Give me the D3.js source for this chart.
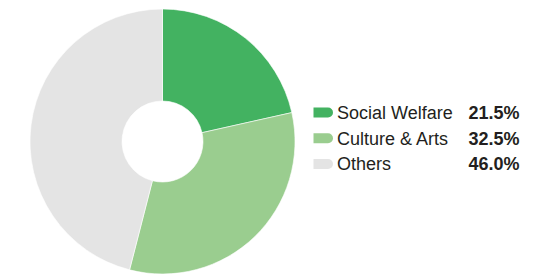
<!DOCTYPE html>
<html lang="en">
  <head>
      <meta charset="utf-8">
      <title>Donut</title>
      <script type="text/javascript" src="https://cdn.jsdelivr.net/npm/d3@7"></script>
      <style>
        body { margin: 0; background: #fff; }
        text { font-family: "Liberation Sans", Arial, sans-serif; fill: #231f20; }
      </style>
  </head>
  <body>
      <script type="text/javascript">

      var categories = ["Social Welfare", "Culture & Arts", "Others"];
      var values = [21.5, 32.5, 46.0];
      var labels = ["21.5%", "32.5%", "46.0%"];
      var colors = ["#43b261", "#9acd8f", "#e4e4e4"];

      var w = 560;
      var h = 277;
      var cx = 162.5, cy = 141.5;
      var outerR = 132.5, innerR = 40.5;

      var svg = d3.select("body").append("svg").attr("width", w).attr("height", h);

      var pie = d3.pie().sort(null).value(function(d){ return d; });
      var arc = d3.arc().innerRadius(innerR).outerRadius(outerR);
      var color = d3.scaleOrdinal().domain(categories).range(colors);

      // Donut slices
      svg.append("g").attr("transform", "translate(" + cx + "," + cy + ")")
        .selectAll("path").data(pie(values)).enter().append("path")
        .attr("d", arc)
        .attr("fill", function(d, i){ return color(categories[i]); })
        .attr("stroke", "#fff").attr("stroke-width", 0.6);

      // Legend
      var rowY = d3.scalePoint().domain(categories).range([112.5, 164]);
      var legend = svg.append("g").selectAll("g").data(categories).enter().append("g")
        .attr("transform", function(d){ return "translate(0," + rowY(d) + ")"; });

      // swatch: flat on the left, rounded on the right
      legend.append("path")
        .attr("d", "M313.5,-5 H328 A5,5 0 0 1 328,5 H313.5 Z")
        .attr("fill", function(d){ return color(d); });

      legend.append("text").text(function(d){ return d; })
        .attr("x", 337).attr("y", 6.3)
        .attr("font-size", "18px");

      legend.append("text").text(function(d, i){ return labels[i]; })
        .attr("x", 519.5).attr("y", 6.3)
        .attr("font-size", "18px").attr("font-weight", "bold")
        .attr("text-anchor", "end");

      </script>
  </body>
</html>
